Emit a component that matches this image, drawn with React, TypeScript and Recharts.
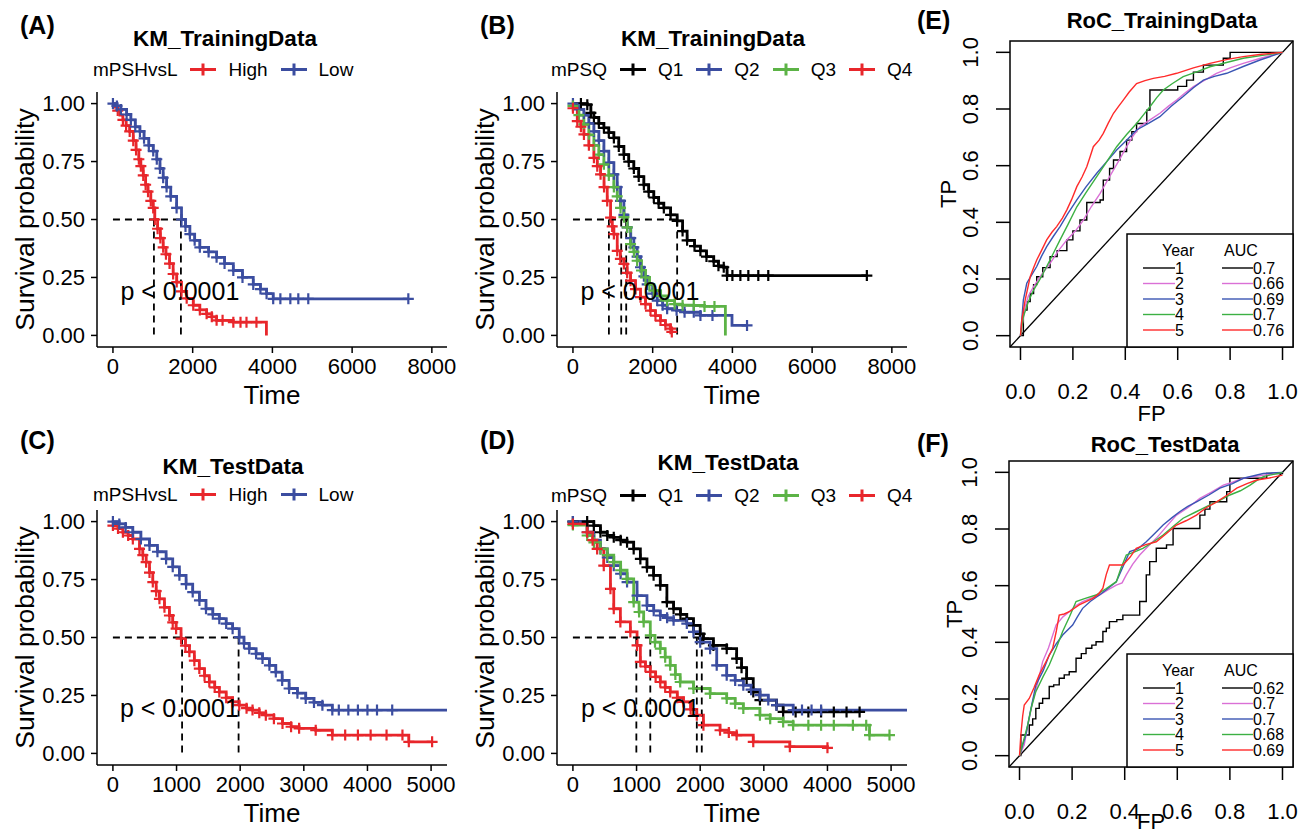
import React from "react";
import {
  LineChart,
  Line,
  XAxis,
  YAxis,
  ReferenceLine,
  ReferenceDot,
  ReferenceArea,
} from "recharts";

type Pt = [number, number, number]; // [time, survival, censored]
type XY = [number, number]; // [FP, TP]

// ---- (A) KM training, mPSHvsL
const trainHigh: Pt[] = [
  [0, 1, 0], [60, 0.985, 0], [120, 0.97, 1], [175, 0.95, 0], [250, 0.93, 1], [330, 0.905, 1],
  [420, 0.88, 1], [510, 0.84, 1], [580, 0.8, 1], [650, 0.76, 1], [700, 0.73, 1], [760, 0.69, 1],
  [820, 0.65, 1], [880, 0.62, 1], [950, 0.58, 1], [1010, 0.55, 1], [1050, 0.5, 1], [1120, 0.46, 1],
  [1190, 0.42, 1], [1260, 0.38, 1], [1330, 0.35, 1], [1420, 0.31, 1], [1510, 0.265, 1], [1600, 0.23, 1],
  [1720, 0.19, 1], [1850, 0.16, 1], [2015, 0.13, 1], [2180, 0.11, 1], [2350, 0.093, 1], [2480, 0.08, 1],
  [2600, 0.065, 1], [2750, 0.065, 1], [3020, 0.057, 1], [3200, 0.057, 1], [3350, 0.057, 1],
  [3600, 0.057, 1], [3850, 0, 0],
];
const trainLow: Pt[] = [
  [0, 1, 1], [100, 0.99, 1], [200, 0.975, 1], [343, 0.953, 1], [450, 0.93, 1], [560, 0.9, 1],
  [677, 0.88, 1], [780, 0.85, 1], [900, 0.82, 1], [1011, 0.795, 1], [1100, 0.76, 1], [1180, 0.72, 1],
  [1260, 0.68, 1], [1346, 0.64, 1], [1450, 0.6, 1], [1597, 0.55, 1], [1720, 0.5, 1], [1820, 0.47, 1],
  [1930, 0.437, 1], [2050, 0.41, 1], [2180, 0.38, 1], [2400, 0.36, 1], [2600, 0.337, 1], [2800, 0.31, 1],
  [3020, 0.28, 1], [3250, 0.25, 1], [3520, 0.22, 1], [3700, 0.2, 1], [3854, 0.18, 1], [4020, 0.158, 1],
  [4200, 0.158, 1], [4450, 0.158, 1], [4650, 0.158, 1], [4900, 0.158, 1], [7410, 0.158, 1],
];
const medA = [1028, 1705];

// ---- (B) KM training, mPSQ
const trainQ1: Pt[] = [
  [0, 1, 0], [200, 1, 1], [360, 0.995, 1], [450, 0.96, 1], [526, 0.94, 1], [650, 0.915, 1],
  [777, 0.895, 1], [900, 0.875, 1], [1027, 0.852, 1], [1150, 0.815, 1], [1278, 0.78, 1], [1400, 0.75, 1],
  [1528, 0.72, 1], [1650, 0.685, 1], [1779, 0.65, 1], [1900, 0.62, 1], [2029, 0.595, 1], [2150, 0.57, 1],
  [2280, 0.55, 1], [2450, 0.52, 1], [2614, 0.494, 1], [2750, 0.45, 1], [2864, 0.41, 1], [3050, 0.385, 1],
  [3198, 0.365, 1], [3350, 0.34, 1], [3532, 0.32, 1], [3650, 0.3, 1], [3783, 0.294, 1], [3866, 0.258, 1],
  [4000, 0.258, 1], [4200, 0.258, 1], [4400, 0.258, 1], [4650, 0.258, 1], [4900, 0.258, 1], [7373, 0.258, 1],
];
const trainQ2: Pt[] = [
  [0, 1, 1], [150, 0.975, 1], [275, 0.95, 1], [400, 0.915, 1], [526, 0.88, 1], [650, 0.84, 1],
  [777, 0.795, 1], [900, 0.745, 1], [1027, 0.695, 1], [1110, 0.64, 1], [1194, 0.58, 1], [1278, 0.52, 1],
  [1361, 0.466, 1], [1450, 0.42, 1], [1528, 0.38, 1], [1610, 0.34, 1], [1695, 0.294, 1], [1780, 0.255, 1],
  [1862, 0.22, 1], [2000, 0.18, 1], [2113, 0.15, 1], [2250, 0.13, 1], [2363, 0.115, 1], [2600, 0.108, 1],
  [2800, 0.1, 1], [3031, 0.1, 1], [3198, 0.086, 1], [3500, 0.086, 1], [3950, 0.086, 0], [3990, 0.043, 0],
  [4367, 0.043, 1],
];
const trainQ3: Pt[] = [
  [0, 0.99, 1], [150, 0.95, 1], [275, 0.91, 1], [400, 0.865, 1], [526, 0.82, 1], [650, 0.78, 1],
  [777, 0.738, 1], [900, 0.69, 1], [1027, 0.64, 1], [1110, 0.6, 1], [1194, 0.55, 1], [1280, 0.51, 1],
  [1361, 0.466, 1], [1445, 0.394, 1], [1530, 0.36, 1], [1611, 0.322, 1], [1720, 0.28, 1], [1820, 0.25, 1],
  [1920, 0.22, 1], [2029, 0.193, 1], [2200, 0.17, 1], [2363, 0.15, 1], [2550, 0.135, 1], [2750, 0.13, 1],
  [3031, 0.129, 1], [3300, 0.125, 1], [3550, 0.125, 1], [3783, 0.125, 0], [3824, 0, 0],
];
const trainQ4: Pt[] = [
  [0, 0.98, 1], [109, 0.924, 1], [200, 0.9, 1], [276, 0.867, 1], [400, 0.82, 1], [526, 0.766, 1],
  [610, 0.73, 1], [693, 0.695, 1], [780, 0.64, 1], [860, 0.58, 1], [944, 0.508, 1], [985, 0.47, 1],
  [1027, 0.437, 1], [1111, 0.365, 1], [1190, 0.33, 1], [1278, 0.308, 1], [1360, 0.27, 1], [1445, 0.236, 1],
  [1570, 0.2, 1], [1695, 0.165, 1], [1820, 0.135, 1], [1945, 0.107, 1], [2070, 0.085, 1], [2196, 0.064, 1],
  [2320, 0.045, 1], [2447, 0.029, 1], [2480, 0.015, 1],
];
const medB = [902, 1211, 1336, 2614];

// ---- (C) KM test, mPSHvsL
const testHigh: Pt[] = [
  [0, 0.983, 1], [80, 0.97, 1], [157, 0.954, 1], [240, 0.94, 1], [313, 0.925, 1], [418, 0.882, 1],
  [470, 0.855, 1], [522, 0.825, 1], [575, 0.78, 1], [627, 0.739, 1], [680, 0.7, 1], [731, 0.667, 1],
  [810, 0.63, 1], [888, 0.595, 1], [940, 0.565, 1], [993, 0.538, 1], [1071, 0.495, 1], [1140, 0.465, 1],
  [1202, 0.438, 1], [1280, 0.4, 1], [1358, 0.366, 1], [1440, 0.335, 1], [1515, 0.308, 1], [1600, 0.285, 1],
  [1672, 0.265, 1], [1780, 0.24, 1], [1881, 0.222, 1], [1985, 0.208, 1], [2100, 0.195, 1], [2194, 0.187, 1],
  [2300, 0.175, 1], [2403, 0.165, 1], [2530, 0.15, 1], [2665, 0.129, 1], [2800, 0.115, 1], [2926, 0.108, 1],
  [3187, 0.1, 1], [3448, 0.079, 1], [3650, 0.079, 1], [3850, 0.079, 1], [4050, 0.079, 1], [4300, 0.079, 1],
  [4550, 0.079, 1], [4650, 0.05, 1], [5016, 0.05, 1],
];
const testLow: Pt[] = [
  [0, 1, 1], [100, 0.99, 1], [200, 0.975, 1], [313, 0.954, 1], [440, 0.925, 1], [575, 0.897, 1],
  [700, 0.87, 1], [836, 0.839, 1], [940, 0.805, 1], [1045, 0.768, 1], [1150, 0.73, 1], [1254, 0.696, 1],
  [1360, 0.66, 1], [1463, 0.624, 1], [1570, 0.6, 1], [1672, 0.581, 1], [1780, 0.56, 1], [1881, 0.538, 1],
  [1985, 0.502, 1], [2060, 0.475, 1], [2142, 0.452, 1], [2250, 0.43, 1], [2351, 0.409, 1], [2460, 0.38, 1],
  [2560, 0.351, 1], [2660, 0.315, 1], [2769, 0.28, 1], [2900, 0.26, 1], [3030, 0.237, 1], [3160, 0.22, 1],
  [3292, 0.208, 1], [3448, 0.187, 1], [3550, 0.187, 1], [3700, 0.187, 1], [3850, 0.187, 1], [4000, 0.187, 1],
  [4150, 0.187, 1], [4389, 0.187, 1], [5250, 0.187, 0],
];
const medC = [1087, 1975];

// ---- (D) KM test, mPSQ
const testQ1: Pt[] = [
  [0, 1, 1], [224, 1, 1], [329, 0.983, 1], [433, 0.954, 1], [540, 0.94, 1], [642, 0.932, 1],
  [750, 0.92, 1], [851, 0.911, 1], [955, 0.882, 1], [1060, 0.839, 1], [1164, 0.803, 1], [1268, 0.768, 1],
  [1373, 0.725, 1], [1477, 0.653, 1], [1582, 0.624, 1], [1690, 0.6, 1], [1790, 0.581, 1], [1895, 0.552, 1],
  [2000, 0.516, 1], [2051, 0.495, 1], [2208, 0.466, 1], [2417, 0.452, 1], [2573, 0.409, 1], [2650, 0.37, 1],
  [2730, 0.323, 1], [2834, 0.265, 1], [2939, 0.23, 1], [3200, 0.208, 1], [3304, 0.179, 1], [3500, 0.179, 1],
  [3700, 0.179, 1], [3900, 0.179, 1], [4100, 0.179, 1], [4300, 0.179, 1], [4505, 0.179, 1],
];
const testQ2: Pt[] = [
  [0, 1, 1], [224, 0.954, 1], [330, 0.92, 1], [433, 0.882, 1], [540, 0.845, 1], [642, 0.81, 1],
  [750, 0.775, 1], [851, 0.739, 1], [1008, 0.681, 1], [1164, 0.638, 1], [1270, 0.615, 1], [1373, 0.595, 1],
  [1480, 0.585, 1], [1582, 0.574, 1], [1790, 0.56, 1], [1895, 0.524, 1], [2000, 0.48, 1], [2156, 0.452, 1],
  [2260, 0.38, 1], [2417, 0.337, 1], [2550, 0.315, 1], [2678, 0.294, 1], [2800, 0.275, 1], [2939, 0.251, 1],
  [3070, 0.23, 1], [3200, 0.208, 1], [3461, 0.187, 1], [3600, 0.187, 1], [3750, 0.187, 1], [3900, 0.187, 1],
  [5250, 0.187, 0],
];
const testQ3: Pt[] = [
  [0, 0.985, 1], [224, 0.94, 1], [330, 0.91, 1], [433, 0.882, 1], [540, 0.855, 1], [642, 0.825, 1],
  [750, 0.79, 1], [851, 0.753, 1], [955, 0.653, 1], [1040, 0.61, 1], [1112, 0.567, 1], [1216, 0.509, 1],
  [1290, 0.48, 1], [1373, 0.452, 1], [1450, 0.415, 1], [1529, 0.38, 1], [1610, 0.34, 1], [1686, 0.308, 1],
  [1895, 0.28, 1], [2156, 0.258, 1], [2417, 0.237, 1], [2550, 0.215, 1], [2678, 0.194, 1], [2939, 0.165, 1],
  [3100, 0.15, 1], [3304, 0.136, 1], [3461, 0.122, 1], [3700, 0.122, 1], [3900, 0.122, 1], [4100, 0.122, 1],
  [4400, 0.122, 1], [4609, 0.122, 1], [4661, 0.079, 1], [4975, 0.079, 1],
];
const testQ4: Pt[] = [
  [0, 0.99, 1], [224, 0.954, 1], [310, 0.92, 1], [381, 0.882, 1], [485, 0.81, 1], [590, 0.71, 1],
  [642, 0.624, 1], [746, 0.567, 1], [903, 0.524, 1], [1008, 0.466, 1], [1060, 0.395, 1], [1140, 0.375, 1],
  [1216, 0.352, 1], [1300, 0.33, 1], [1373, 0.308, 1], [1450, 0.285, 1], [1529, 0.265, 1], [1640, 0.24, 1],
  [1738, 0.222, 1], [1850, 0.19, 1], [1947, 0.165, 1], [2051, 0.122, 1], [2312, 0.1, 1], [2450, 0.09, 1],
  [2573, 0.079, 1], [2834, 0.05, 1], [3409, 0.029, 1], [4000, 0.024, 1],
];
const medD = [997, 1216, 1947, 2025];

// ---- (E) ROC training
const rocTr1: XY[] = [
  [0, 0], [0.011, 0.09], [0.025, 0.12], [0.037, 0.149], [0.05, 0.18], [0.062, 0.208], [0.085, 0.24],
  [0.113, 0.279], [0.14, 0.3], [0.177, 0.338], [0.2, 0.37], [0.227, 0.408], [0.253, 0.47], [0.304, 0.479],
  [0.316, 0.549], [0.34, 0.59], [0.355, 0.62], [0.38, 0.65], [0.405, 0.69], [0.425, 0.72], [0.443, 0.749],
  [0.482, 0.796], [0.494, 0.867], [0.583, 0.867], [0.6, 0.88], [0.634, 0.902], [0.66, 0.93], [0.698, 0.955],
  [0.774, 0.979], [0.8, 1], [1, 1],
];
const rocTr2: XY[] = [
  [0, 0], [0.018, 0.102], [0.03, 0.14], [0.05, 0.173], [0.08, 0.215], [0.113, 0.255], [0.145, 0.3],
  [0.177, 0.338], [0.21, 0.37], [0.24, 0.408], [0.27, 0.455], [0.304, 0.502], [0.33, 0.545], [0.355, 0.585],
  [0.38, 0.625], [0.405, 0.667], [0.43, 0.705], [0.456, 0.738], [0.5, 0.765], [0.532, 0.785], [0.565, 0.81],
  [0.596, 0.832], [0.63, 0.858], [0.66, 0.879], [0.7, 0.9], [0.748, 0.926], [0.8, 0.945], [0.85, 0.961],
  [0.92, 0.98], [1, 1],
];
const rocTr3: XY[] = [
  [0, 0], [0.011, 0.126], [0.024, 0.185], [0.04, 0.21], [0.062, 0.244], [0.08, 0.28], [0.1, 0.314],
  [0.125, 0.35], [0.151, 0.385], [0.18, 0.43], [0.215, 0.479], [0.25, 0.525], [0.291, 0.573], [0.33, 0.615],
  [0.367, 0.655], [0.405, 0.69], [0.443, 0.726], [0.49, 0.75], [0.532, 0.773], [0.575, 0.81], [0.621, 0.844],
  [0.66, 0.875], [0.698, 0.902], [0.74, 0.915], [0.787, 0.926], [0.85, 0.95], [0.914, 0.973], [1, 1],
];
const rocTr4: XY[] = [
  [0, 0], [0.011, 0.067], [0.03, 0.12], [0.05, 0.161], [0.075, 0.2], [0.1, 0.244], [0.125, 0.29],
  [0.151, 0.338], [0.18, 0.39], [0.215, 0.455], [0.25, 0.505], [0.291, 0.561], [0.33, 0.615], [0.367, 0.667],
  [0.405, 0.71], [0.443, 0.749], [0.47, 0.78], [0.494, 0.808], [0.52, 0.84], [0.545, 0.867], [0.58, 0.89],
  [0.621, 0.914], [0.67, 0.93], [0.723, 0.949], [0.79, 0.965], [0.85, 0.979], [0.93, 0.99], [1, 1],
];
const rocTr5: XY[] = [
  [0, 0], [0.005, 0.055], [0.018, 0.126], [0.037, 0.208], [0.05, 0.24], [0.062, 0.267], [0.08, 0.3],
  [0.1, 0.338], [0.12, 0.365], [0.138, 0.385], [0.16, 0.415], [0.177, 0.444], [0.195, 0.48], [0.215, 0.526],
  [0.235, 0.56], [0.253, 0.596], [0.265, 0.63], [0.278, 0.667], [0.3, 0.69], [0.316, 0.714], [0.335, 0.75],
  [0.355, 0.785], [0.375, 0.81], [0.393, 0.832], [0.415, 0.86], [0.443, 0.89], [0.475, 0.9], [0.507, 0.908],
  [0.55, 0.915], [0.596, 0.926], [0.66, 0.945], [0.723, 0.961], [0.79, 0.975], [0.85, 0.985], [0.92, 0.993],
  [1, 1],
];
const aucTrain = ["0.7", "0.66", "0.69", "0.7", "0.76"];

// ---- (F) ROC test
const rocTe1: XY[] = [
  [0, 0], [0.005, 0.073], [0.037, 0.108], [0.05, 0.13], [0.062, 0.167], [0.075, 0.185], [0.088, 0.202],
  [0.113, 0.244], [0.13, 0.25], [0.151, 0.273], [0.17, 0.285], [0.189, 0.296], [0.215, 0.344], [0.235, 0.36],
  [0.253, 0.379], [0.275, 0.39], [0.291, 0.402], [0.317, 0.438], [0.33, 0.45], [0.342, 0.473], [0.37, 0.48],
  [0.393, 0.496], [0.457, 0.544], [0.482, 0.638], [0.495, 0.685], [0.52, 0.732], [0.559, 0.744],
  [0.584, 0.802], [0.648, 0.802], [0.686, 0.849], [0.705, 0.87], [0.724, 0.896], [0.788, 0.932],
  [0.8, 0.979], [0.94, 0.996], [1, 1],
];
const rocTe2: XY[] = [
  [0, 0], [0.018, 0.038], [0.03, 0.1], [0.05, 0.191], [0.07, 0.26], [0.088, 0.332], [0.11, 0.38],
  [0.139, 0.461], [0.165, 0.49], [0.189, 0.508], [0.215, 0.53], [0.24, 0.544], [0.27, 0.555], [0.304, 0.567],
  [0.336, 0.585], [0.368, 0.602], [0.39, 0.61], [0.406, 0.638], [0.43, 0.675], [0.457, 0.708], [0.49, 0.74],
  [0.52, 0.767], [0.56, 0.81], [0.597, 0.849], [0.64, 0.875], [0.686, 0.908], [0.73, 0.93], [0.775, 0.955],
  [0.81, 0.965], [0.851, 0.979], [0.93, 0.99], [1, 1],
];
const rocTe3: XY[] = [
  [0, 0], [0.024, 0.073], [0.04, 0.15], [0.062, 0.249], [0.09, 0.3], [0.113, 0.355], [0.14, 0.395],
  [0.164, 0.426], [0.202, 0.461], [0.22, 0.49], [0.24, 0.52], [0.27, 0.545], [0.304, 0.567], [0.336, 0.59],
  [0.368, 0.614], [0.395, 0.67], [0.419, 0.72], [0.45, 0.73], [0.482, 0.755], [0.515, 0.785], [0.546, 0.814],
  [0.58, 0.84], [0.609, 0.861], [0.64, 0.88], [0.673, 0.896], [0.72, 0.92], [0.762, 0.944], [0.81, 0.96],
  [0.851, 0.979], [0.927, 0.996], [1, 1],
];
const rocTe4: XY[] = [
  [0, 0], [0.031, 0.108], [0.045, 0.17], [0.062, 0.226], [0.09, 0.28], [0.113, 0.32], [0.14, 0.38],
  [0.164, 0.438], [0.19, 0.49], [0.215, 0.544], [0.25, 0.555], [0.291, 0.567], [0.33, 0.59], [0.368, 0.614],
  [0.385, 0.66], [0.406, 0.708], [0.44, 0.72], [0.469, 0.732], [0.51, 0.755], [0.546, 0.779], [0.585, 0.81],
  [0.622, 0.838], [0.67, 0.86], [0.724, 0.885], [0.76, 0.9], [0.8, 0.92], [0.84, 0.935], [0.877, 0.955],
  [0.9, 0.97], [0.927, 0.985], [1, 1],
];
const rocTe5: XY[] = [
  [0, 0], [0.005, 0.073], [0.012, 0.14], [0.018, 0.179], [0.037, 0.202], [0.055, 0.24], [0.075, 0.285],
  [0.1, 0.33], [0.126, 0.379], [0.14, 0.44], [0.151, 0.496], [0.17, 0.5], [0.189, 0.508], [0.227, 0.532],
  [0.279, 0.555], [0.3, 0.57], [0.317, 0.591], [0.33, 0.64], [0.342, 0.673], [0.393, 0.673], [0.42, 0.7],
  [0.444, 0.732], [0.48, 0.745], [0.52, 0.755], [0.56, 0.785], [0.597, 0.814], [0.635, 0.83], [0.673, 0.849],
  [0.71, 0.875], [0.75, 0.896], [0.79, 0.92], [0.826, 0.944], [0.865, 0.96], [0.902, 0.973], [0.95, 0.98],
  [1, 0.99],
];
const aucTest = ["0.62", "0.7", "0.7", "0.68", "0.69"];

const years = ["1", "2", "3", "4", "5"];
const survTicks = [0, 0.25, 0.5, 0.75, 1];
const ticks8000 = [0, 2000, 4000, 6000, 8000];
const ticks5000 = [0, 1000, 2000, 3000, 4000, 5000];
const rocTicks = [0, 0.2, 0.4, 0.6, 0.8, 1];

const RED = "#E8262B";
const BLUE = "#3B4DA0";
const GREEN = "#5CB346";
const BLACK = "#000000";
const rocColors = ["#000000", "#DA70D6", "#3A55B4", "#3CB043", "#FF2A2A"];

const FONT = '"Liberation Sans", Arial, Helvetica, sans-serif';
const axisStyle = { stroke: "#000", strokeWidth: 1.5 };

const toPts = (arr: Pt[]) => arr.map(([t, s, c]) => ({ t, s, c }));
const toXY = (arr: XY[]) => arr.map(([x, y]) => ({ x, y }));

// censor mark "+"
const crossDot = (color: string) => (props: any) => {
  const { cx, cy, payload, index } = props;
  if (!payload || !payload.c) return <g key={index} />;
  return (
    <path
      key={index}
      d={`M${cx - 5.5},${cy}h11M${cx},${cy - 5.5}v11`}
      stroke={color}
      strokeWidth={2.2}
      fill="none"
    />
  );
};

const yTitle = (text: string, cx: number, size: number) => (p: any) => {
  const vb = p.viewBox;
  const cy = vb.y + vb.height / 2;
  return (
    <text
      x={cx}
      y={cy}
      dy="0.36em"
      transform={`rotate(-90, ${cx}, ${cy})`}
      textAnchor="middle"
      fontSize={size}
      fill="#000"
    >
      {text}
    </text>
  );
};

const xTitle = (text: string, below: number, size: number) => (p: any) => {
  const vb = p.viewBox;
  return (
    <text x={vb.x + vb.width / 2} y={vb.y + below} textAnchor="middle" fontSize={size} fill="#000">
      {text}
    </text>
  );
};

const RotTick = (props: any) => {
  const { x, y, payload } = props;
  return (
    <text x={x} y={y} transform={`rotate(-90, ${x}, ${y})`} textAnchor="middle" fontSize={22} fill="#000">
      {Number(payload.value).toFixed(1)}
    </text>
  );
};

const Txt = ({ cx, cy, left, size, bold, children }: any) => (
  <div
    style={{
      position: "absolute",
      left: left != null ? left : cx,
      top: cy,
      transform: left != null ? "translateY(-50%)" : "translate(-50%, -50%)",
      fontSize: size,
      fontWeight: bold ? 700 : 400,
      lineHeight: 1,
      whiteSpace: "nowrap",
    }}
  >
    {children}
  </div>
);

type Group = { name: string; color: string; pts: Pt[] };

type KMProps = {
  left: number;
  top: number;
  letter: string;
  letterAt: [number, number];
  title: string;
  titleAt: [number, number];
  legendTitle: string;
  legendAt: [number, number];
  groups: Group[];
  xDomain: [number, number];
  xTicks: number[];
  medians: number[];
  pAt: [number, number];
};

const dash = { stroke: "#000", strokeWidth: 1.8, strokeDasharray: "7 5" };

const KMPanel = (p: KMProps) => (
  <>
    <Txt left={p.letterAt[0]} cy={p.letterAt[1]} size={25} bold>
      {p.letter}
    </Txt>
    <Txt cx={p.titleAt[0]} cy={p.titleAt[1]} size={22.5} bold>
      {p.title}
    </Txt>
    <div
      style={{
        position: "absolute",
        left: p.legendAt[0],
        top: p.legendAt[1],
        transform: "translateY(-50%)",
        display: "flex",
        alignItems: "center",
        fontSize: 19,
        lineHeight: 1,
        whiteSpace: "nowrap",
      }}
    >
      <span>{p.legendTitle}</span>
      {p.groups.map((g) => (
        <React.Fragment key={g.name}>
          <svg width={26} height={14} style={{ marginLeft: 13 }}>
            <line x1={0} y1={7} x2={26} y2={7} stroke={g.color} strokeWidth={3} />
            <line x1={13} y1={1} x2={13} y2={13} stroke={g.color} strokeWidth={3} />
          </svg>
          <span style={{ marginLeft: 12 }}>{g.name}</span>
        </React.Fragment>
      ))}
    </div>
    <div style={{ position: "absolute", left: p.left, top: p.top }}>
      <LineChart width={460} height={338} margin={{ top: 12, right: 13, bottom: 11, left: 0 }}>
        <XAxis
          type="number"
          dataKey="t"
          domain={p.xDomain}
          ticks={p.xTicks}
          interval={0}
          allowDataOverflow
          height={60}
          tickSize={6}
          tickMargin={5}
          tick={{ fill: "#000", fontSize: 22 }}
          axisLine={axisStyle}
          tickLine={axisStyle}
          label={xTitle("Time", 57, 26)}
        />
        <YAxis
          type="number"
          dataKey="s"
          domain={[-0.05, 1.05]}
          ticks={survTicks}
          interval={0}
          allowDataOverflow
          width={97}
          tickSize={6}
          tickMargin={6}
          tickFormatter={(v: number) => v.toFixed(2)}
          tick={{ fill: "#000", fontSize: 22 }}
          axisLine={axisStyle}
          tickLine={axisStyle}
          label={yTitle("Survival probability", 24, 26.5)}
        />
        {p.groups.map((g) => (
          <Line
            key={g.name}
            data={toPts(g.pts)}
            dataKey="s"
            type="stepAfter"
            stroke={g.color}
            strokeWidth={2.8}
            dot={crossDot(g.color)}
            activeDot={false}
            isAnimationActive={false}
          />
        ))}
        <ReferenceLine
          segment={[
            { x: 0, y: 0.5 },
            { x: Math.max(...p.medians), y: 0.5 },
          ]}
          {...dash}
        />
        {p.medians.map((m) => (
          <ReferenceLine
            key={m}
            segment={[
              { x: m, y: 0.5 },
              { x: m, y: 0 },
            ]}
            {...dash}
          />
        ))}
        <ReferenceDot
          x={p.pAt[0]}
          y={p.pAt[1]}
          r={1}
          fill="none"
          stroke="none"
          label={{ value: "p < 0.0001", position: "center", fontSize: 25, fill: "#000" }}
        />
      </LineChart>
    </div>
  </>
);

type ROCProps = {
  left: number;
  top: number;
  height: number;
  yWidth: number;
  xAxisH: number;
  bottom: number;
  letterAt: [number, number];
  letter: string;
  title: string;
  titleAt: [number, number];
  curves: XY[][];
  aucs: string[];
  legendBox: [number, number, number, number];
  tpX: number;
  fpBelow: number;
};

const ROCPanel = (p: ROCProps) => {
  const [lx, ly, lw, lh] = p.legendBox;
  return (
    <>
      <Txt left={p.letterAt[0]} cy={p.letterAt[1]} size={25} bold>
        {p.letter}
      </Txt>
      <Txt cx={p.titleAt[0]} cy={p.titleAt[1]} size={22} bold>
        {p.title}
      </Txt>
      <div style={{ position: "absolute", left: p.left, top: p.top }}>
        <LineChart
          width={399}
          height={p.height}
          margin={{ top: 11, right: 16, bottom: p.bottom, left: 0 }}
        >
          <XAxis
            type="number"
            dataKey="x"
            domain={[-0.04, 1.04]}
            ticks={rocTicks}
            interval={0}
            height={p.xAxisH}
            tickSize={13}
            tickMargin={23}
            tickFormatter={(v: number) => v.toFixed(1)}
            tick={{ fill: "#000", fontSize: 22 }}
            axisLine={false}
            tickLine={axisStyle}
            label={xTitle("FP", p.fpBelow, 22)}
          />
          <YAxis
            type="number"
            dataKey="y"
            domain={[-0.04, 1.04]}
            ticks={rocTicks}
            interval={0}
            width={p.yWidth}
            tickSize={14}
            tickMargin={18}
            tick={<RotTick />}
            axisLine={false}
            tickLine={axisStyle}
            label={yTitle("TP", p.tpX, 22)}
          />
          <ReferenceArea
            x1={-0.04}
            x2={1.04}
            y1={-0.04}
            y2={1.04}
            fill="none"
            stroke="#000"
            strokeWidth={1.5}
          />
          <ReferenceLine
            segment={[
              { x: -0.04, y: -0.04 },
              { x: 1.04, y: 1.04 },
            ]}
            stroke="#000"
            strokeWidth={1.3}
          />
          {p.curves.map((c, i) => (
            <Line
              key={i}
              data={toXY(c)}
              dataKey="y"
              type={i === 0 ? "stepAfter" : "linear"}
              stroke={rocColors[i]}
              strokeWidth={1.4}
              dot={false}
              activeDot={false}
              isAnimationActive={false}
            />
          ))}
        </LineChart>
      </div>
      <svg
        width={lw}
        height={lh}
        style={{ position: "absolute", left: lx, top: ly, overflow: "visible" }}
      >
        <rect x={0} y={0} width={lw} height={lh} fill="#fff" stroke="#000" strokeWidth={1.5} />
        <text x={35} y={22} fontSize={16} fill="#000">
          Year
        </text>
        <text x={97} y={22} fontSize={16} fill="#000">
          AUC
        </text>
        {years.map((yr, i) => {
          const cy = 34 + i * 15.5;
          return (
            <g key={yr}>
              <line x1={16} y1={cy} x2={48} y2={cy} stroke={rocColors[i]} strokeWidth={1.4} />
              <text x={48} y={cy + 5.7} fontSize={16} fill="#000">
                {yr}
              </text>
              <line x1={95} y1={cy} x2={126} y2={cy} stroke={rocColors[i]} strokeWidth={1.4} />
              <text x={126} y={cy + 5.7} fontSize={16} fill="#000">
                {p.aucs[i]}
              </text>
            </g>
          );
        })}
      </svg>
    </>
  );
};

export default function App() {
  return (
    <div
      style={{
        position: "absolute",
        left: 0,
        top: 0,
        width: 1309,
        height: 835,
        overflow: "hidden",
        background: "#fff",
        fontFamily: FONT,
        color: "#000",
      }}
    >
      <KMPanel
        left={0}
        top={80}
        letter="(A)"
        letterAt={[20, 25]}
        title="KM_TrainingData"
        titleAt={[225, 39]}
        legendTitle="mPSHvsL"
        legendAt={[93, 69]}
        groups={[
          { name: "High", color: RED, pts: trainHigh },
          { name: "Low", color: BLUE, pts: trainLow },
        ]}
        xDomain={[-400, 8380]}
        xTicks={ticks8000}
        medians={medA}
        pAt={[1680, 0.19]}
      />
      <KMPanel
        left={460}
        top={80}
        letter="(B)"
        letterAt={[480, 25]}
        title="KM_TrainingData"
        titleAt={[713, 39]}
        legendTitle="mPSQ"
        legendAt={[551, 69]}
        groups={[
          { name: "Q1", color: BLACK, pts: trainQ1 },
          { name: "Q2", color: BLUE, pts: trainQ2 },
          { name: "Q3", color: GREEN, pts: trainQ3 },
          { name: "Q4", color: RED, pts: trainQ4 },
        ]}
        xDomain={[-400, 8380]}
        xTicks={ticks8000}
        medians={medB}
        pAt={[1680, 0.19]}
      />
      <KMPanel
        left={0}
        top={498}
        letter="(C)"
        letterAt={[20, 440]}
        title="KM_TestData"
        titleAt={[233, 467]}
        legendTitle="mPSHvsL"
        legendAt={[93, 494]}
        groups={[
          { name: "High", color: RED, pts: testHigh },
          { name: "Low", color: BLUE, pts: testLow },
        ]}
        xDomain={[-250, 5250]}
        xTicks={ticks5000}
        medians={medC}
        pAt={[1045, 0.194]}
      />
      <KMPanel
        left={460}
        top={498}
        letter="(D)"
        letterAt={[480, 440]}
        title="KM_TestData"
        titleAt={[728, 463]}
        legendTitle="mPSQ"
        legendAt={[551, 495]}
        groups={[
          { name: "Q1", color: BLACK, pts: testQ1 },
          { name: "Q2", color: BLUE, pts: testQ2 },
          { name: "Q3", color: GREEN, pts: testQ3 },
          { name: "Q4", color: RED, pts: testQ4 },
        ]}
        xDomain={[-250, 5250]}
        xTicks={ticks5000}
        medians={medD}
        pAt={[1060, 0.194]}
      />
      <ROCPanel
        left={910}
        top={30}
        height={400}
        yWidth={100}
        xAxisH={80}
        bottom={3}
        letter="(E)"
        letterAt={[917, 20]}
        title="RoC_TrainingData"
        titleAt={[1162, 21]}
        curves={[rocTr1, rocTr2, rocTr3, rocTr4, rocTr5]}
        aucs={aucTrain}
        legendBox={[1127, 234, 166, 113]}
        tpX={38}
        fpBelow={74}
      />
      <ROCPanel
        left={910}
        top={450}
        height={385}
        yWidth={99}
        xAxisH={60}
        bottom={8}
        letter="(F)"
        letterAt={[917, 443]}
        title="RoC_TestData"
        titleAt={[1165, 445]}
        curves={[rocTe1, rocTe2, rocTe3, rocTe4, rocTe5]}
        aucs={aucTest}
        legendBox={[1127, 654, 166, 113]}
        tpX={44}
        fpBelow={62}
      />
    </div>
  );
}
